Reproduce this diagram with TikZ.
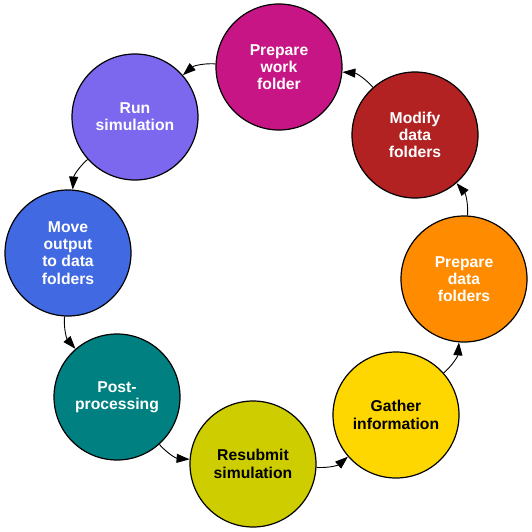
\documentclass[tikz,border=0pt]{standalone}
\usepackage{fontspec}
\setmainfont{Liberation Sans}
\usetikzlibrary{arrows.meta}

\definecolor{workcol}{HTML}{C71585}
\definecolor{modifycol}{HTML}{B22222}
\definecolor{prepcol}{HTML}{FF8C00}
\definecolor{gathercol}{HTML}{FFD700}
\definecolor{resubcol}{HTML}{CDCD00}
\definecolor{postcol}{HTML}{008080}
\definecolor{movecol}{HTML}{4169E1}
\definecolor{runcol}{HTML}{7B68EE}

\tikzset{
	stage/.style={circle, draw=black, line width=1.2pt, minimum size=126pt, inner sep=0pt,
		align=center, text=white, font=\fontsize{15.7}{17.3}\selectfont\bfseries},
	dark/.style={stage, text=black},
	flow/.style={-{Triangle[length=13pt, width=9pt]}, black, line width=0.9pt, bend right=22}
}

\begin{document}
\begin{tikzpicture}[x=1pt, y=-1pt]
			\useasboundingbox (0, 0) rectangle (532, 532);

			\node[stage, fill=workcol]		(work)		at (279, 67)	{Prepare\\work\\folder};
			\node[stage, fill=modifycol]	(modify)	at (415, 135)	{Modify\\data\\folders};
			\node[stage, fill=prepcol]		(prepdata)	at (464, 279)	{Prepare\\data\\folders};
			\node[dark, fill=gathercol]		(gather)	at (396, 415)	{Gather\\information};
			\node[dark, fill=resubcol]		(resubmit)	at (253, 464)	{Resubmit\\simulation};
			\node[stage, fill=postcol]		(post)		at (117, 397)	{Post-\\processing};
			\node[stage, fill=movecol]		(move)		at (68, 253)	{Move\\output\\to data\\folders};
			\node[stage, fill=runcol]		(run)		at (135, 117)	{Run\\simulation};

			\draw[flow]	(work) to (run);
			\draw[flow]	(modify) to (work);
			\draw[flow]	(prepdata) to (modify);
			\draw[flow]	(gather) to (prepdata);
			\draw[flow]	(resubmit) to (gather);
			\draw[flow]	(post) to (resubmit);
			\draw[flow]	(move) to (post);
			\draw[flow]	(run) to (move);
\end{tikzpicture}
\end{document}
